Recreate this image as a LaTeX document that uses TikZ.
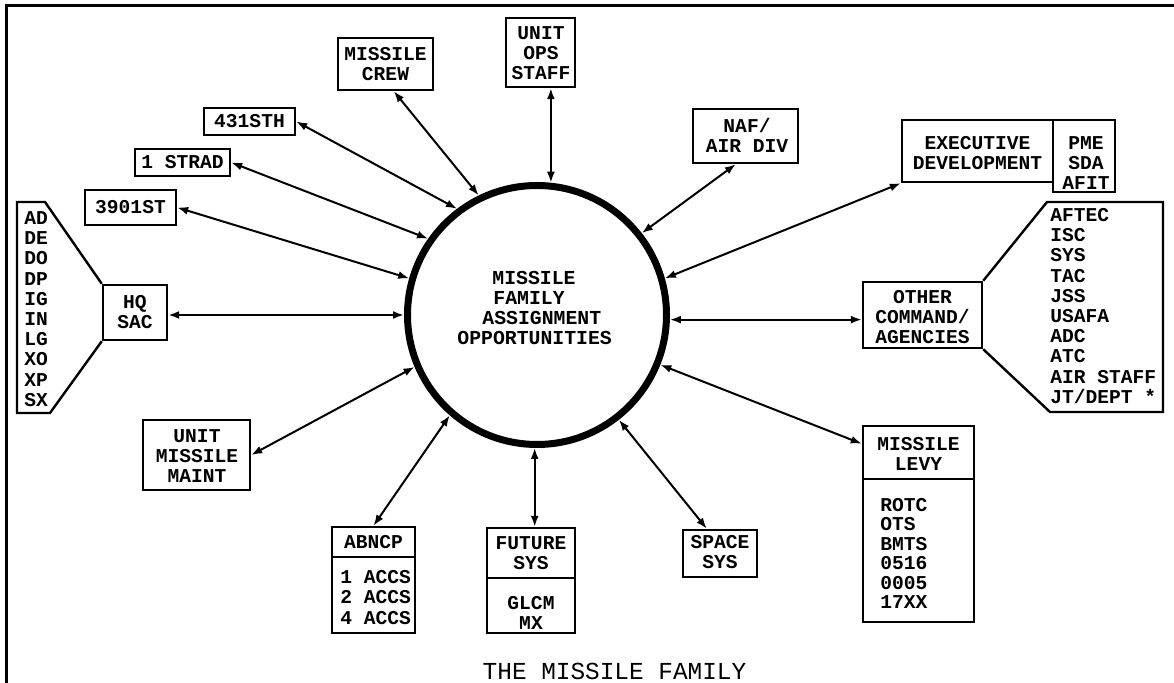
\documentclass[tikz,border=0pt]{standalone}
\usepackage{fontspec}
\newfontfamily\tw{Liberation Mono}
\newcommand\lbfont{\tw\bfseries\fontsize{9.8}{10}\selectfont}
\newcommand\lsfont{\tw\bfseries\fontsize{9.8}{10.1}\selectfont}
\usetikzlibrary{arrows.meta,fit,calc}
\begin{document}
\begin{tikzpicture}[x=0.5pt,y=-0.5pt,
  box/.style={draw, line width=1.2pt, inner sep=0pt},
  boxline/.style={line width=1.2pt, line join=miter},
  lbl/.style={inner sep=0pt, align=center, font=\lbfont},
  lst/.style={inner sep=0pt, align=left, anchor=west, font=\lsfont},
  ctext/.style={inner sep=0pt, anchor=west, font=\tw\bfseries\fontsize{9.9}{10}\selectfont},
  conn/.style={{Latex[length=5.5pt,width=4pt]}-{Latex[length=5.5pt,width=4pt]}, line width=1pt}]
\useasboundingbox (0,0) rectangle (1174,683);
\fill[white] (0,0) rectangle (1174,683);
\draw[line width=1.5pt] (1174,6) -- (6,6) -- (6,683);

% central circle
\node[draw, circle, line width=3.5pt, minimum size=129.5pt, inner sep=0pt] (c) at (537,315) {};
\node[ctext] (t1) at (492,278) {MISSILE};
\node[ctext] (t2) at (493,298) {FAMILY};
\node[ctext] (t3) at (482,318) {ASSIGNMENT};
\node[ctext] (t4) at (457,338) {OPPORTUNITIES};

% boxes
\node[box, fit={(338,38) (433,90)}] (crew) {};
\node[lbl] (crewtxt) at (crew.center) {MISSILE\\CREW};
\node[box, fit={(204,108) (295,135)}] (s431) {};
\node[lbl] (s431txt) at (s431.center) {431STH};
\node[box, fit={(135,149) (230,176)}] (strad) {};
\node[lbl] (stradtxt) at (strad.center) {1 STRAD};
\node[box, fit={(85,190) (176,225)}] (s3901) {};
\node[lbl] (s3901txt) at (s3901.center) {3901ST};
\node[box, fit={(103,285) (167,340)}] (hq) {};
\node[lbl] (hqtxt) at (hq.center) {HQ\\SAC};
\draw[boxline] (hq.north west) -- (45,202) -- (17,202) -- (17,413) -- (50,413) -- (hq.south west);
\node[lst] (hqlist) at (24,309) {AD\\DE\\DO\\DP\\IG\\IN\\LG\\XO\\XP\\SX};

\node[box, fit={(143,420) (250,490)}] (maint) {};
\node[lbl] (mainttxt) at (197,456) {UNIT\\MISSILE\\MAINT};

\node[box, fit={(332,527) (415,557)}] (abncp) {};
\node[lbl] (abncptxt) at (abncp.center) {ABNCP};
\node[box, fit={(332,557) (415,633)}] (accs) {};
\node[lst] (accstxt) at (340,597.5) {1 ACCS\\2 ACCS\\4 ACCS};

\node[box, fit={(487,528) (575,578)}] (future) {};
\node[lbl] (futuretxt) at (531,553.5) {FUTURE\\SYS};
\node[box, fit={(487,578) (575,633)}] (glcm) {};
\node[lbl] (glcmtxt) at (531,613) {GLCM\\MX};

\node[box, fit={(683,530) (757,577)}] (space) {};
\node[lbl] (spacetxt) at (720,552.5) {SPACE\\SYS};

\node[box, fit={(863,426) (974,479)}] (levy) {};
\node[lbl] (levytxt) at (918.5,454) {MISSILE\\LEVY};
\node[box, fit={(863,479) (974,622)}] (levylist) {};
\node[inner sep=0pt, align=left, anchor=west, font=\tw\bfseries\fontsize{9.8}{9.7}\selectfont] (levylisttxt) at (880,553.5) {ROTC\\OTS\\BMTS\\0516\\0005\\17XX};

\node[box, fit={(863,282) (982,348)}] (other) {};
\node[lbl] (othertxt) at (922.5,317) {OTHER\\COMMAND/\\AGENCIES};
\draw[boxline] (other.north east) -- (1047,202) -- (1163,202) -- (1163,412) -- (1050,412) -- (other.south east);
\node[lst] (otherlist) at (1050,306) {AFTEC\\ISC\\SYS\\TAC\\JSS\\USAFA\\ADC\\ATC\\AIR STAFF\\JT/DEPT *};

\node[box, fit={(902,120) (1053,182)}] (exec) {};
\node[lbl] (exectxt) at (977.5,153) {EXECUTIVE\\DEVELOPMENT};
\node[box, fit={(1053,120) (1115,192)}] (pme) {};
\node[lbl] (pmetxt) at (1086,163) {PME\\SDA\\AFIT};

\node[box, fit={(693,109) (798,163)}] (naf) {};
\node[lbl] (naftxt) at (747,135) {NAF/\\AIR DIV};
\node[box, fit={(506,18) (575,87)}] (ops) {};
\node[lbl] (opstxt) at (541,53) {UNIT\\OPS\\STAFF};

% connectors
\draw[conn] (c.116) -- ($(crew.south west)+(57,0)$);
\draw[conn] (c.127) -- (s431.east);
\draw[conn] (c.145) -- (strad.east);
\draw[conn] (c.164) -- (s3901.east);
\draw[conn] (c.180) -- (c.180 -| hq.east);
\draw[conn] (c.203) -- (maint.east);
\draw[conn] (c.229) -- (abncp.north);
\draw[conn] (c.269) -- (c.269 |- future.north);
\draw[conn] (c.308) -- ($(space.north west)+(25,0)$);
\draw[conn] (c.338) -- ($(levy.north west)+(0,19)$);
\draw[conn] (c.358) -- (c.358 -| other.west);
\draw[conn] (c.16) -- (exec.south west);
\draw[conn] (c.38) -- ($(naf.south west)+(44,0)$);
\draw[conn] (c.84) -- (c.84 |- ops.south);

\node[inner sep=0pt, font=\tw\fontsize{12.2}{13}\selectfont] (cap) at (614.5,671) {THE MISSILE FAMILY};
\end{tikzpicture}
\end{document}
